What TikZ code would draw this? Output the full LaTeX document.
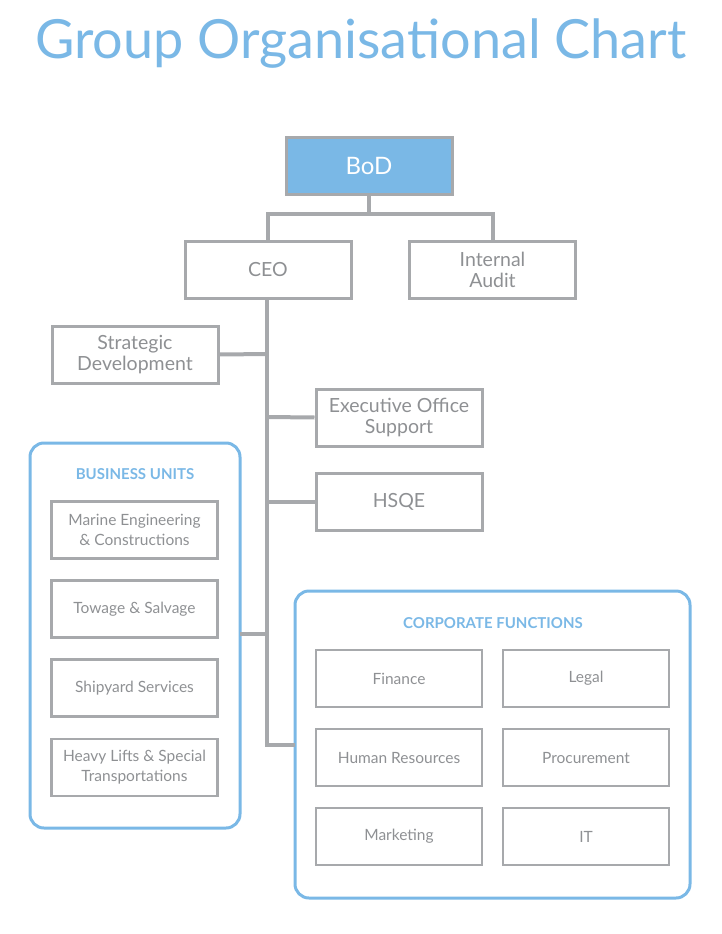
\documentclass[tikz,border=0pt]{standalone}
\usepackage{fontspec}
\setmainfont{Lato}
\usetikzlibrary{positioning}
\definecolor{chartblue}{HTML}{7AB8E6}
\definecolor{chartgrey}{HTML}{A7A9AC}
\definecolor{textgrey}{HTML}{8E9093}
\tikzset{
  unit/.style={rectangle, draw=chartgrey, line width=3pt, minimum width=166pt, minimum height=57pt,
    text centered, text=textgrey, align=center, font=\fontsize{19.5}{21}\selectfont},
  subunit/.style={unit, line width=2.2pt, font=\fontsize{15.5}{20}\selectfont},
  group/.style={rectangle, draw=chartblue, line width=3pt, rounded corners=14pt},
  link/.style={draw=chartgrey, line width=4pt}
}
\begin{document}
\begin{tikzpicture}[x=1pt,y=-1pt]
\useasboundingbox (0,0) rectangle (721,934);
\node (title) at (361,44) {\textcolor{chartblue}{\fontsize{54}{58}\selectfont Group Organisational Chart}};

% top level
\node (bod)[unit, fill=chartblue, text=white, font=\fontsize{24}{26}\selectfont] at (369,165.5) {BoD};
\node (ceo)[unit] at (268,269.5) {CEO};
\node (audit)[unit] at (492.5,269.5) {Internal\\Audit};
\node (strat)[unit] at (135,354.5) {Strategic\\Development};
\node (exec)[unit] at (399,417.5) {Executive Office\\Support};
\node (hsqe)[unit] at (399,502) {HSQE};

% groups
\draw[group] (30,443) rectangle (240,828);
\node (bu)[text=chartblue, font=\bfseries\fontsize{15}{17}\selectfont] at (135,474) {BUSINESS UNITS};
\node (marine)[subunit] at (134.5,530) {Marine Engineering\\\& Constructions};
\node (towage)[subunit] at (134.5,609) {Towage \& Salvage};
\node (yard)[subunit] at (134.5,688) {Shipyard Services};
\node (lifts)[subunit] at (134.5,767.5) {Heavy Lifts \& Special\\Transportations};

\draw[group] (295,591) rectangle (690,898);
\node (cf)[text=chartblue, font=\bfseries\fontsize{15}{17}\selectfont] at (493,623) {CORPORATE FUNCTIONS};
\node (fin)[subunit] at (399,678.5) {Finance};
\node (legal)[subunit] at (586,678.5) {Legal};
\node (hr)[subunit] at (399,757.5) {Human Resources};
\node (proc)[subunit] at (586,757.5) {Procurement};
\node (mkt)[subunit] at (399,836.5) {Marketing};
\node (it)[subunit] at (586,836.5) {IT};

% connectors
\coordinate (split) at (369,214);
\coordinate (trunkend) at (267,745);
\draw[link] (bod.south) -- (split);
\draw[link] (ceo.north) |- (split) -| (audit.north);
\draw[link] (267,298) -- (trunkend) -- (295,745);
\draw[link] (strat.east) -- (267,354);
\draw[link] (exec.west) -- (267,417);
\draw[link] (hsqe.west) -- (267,502);
\draw[link] (240,634) -- (267,634);
\end{tikzpicture}
\end{document}
